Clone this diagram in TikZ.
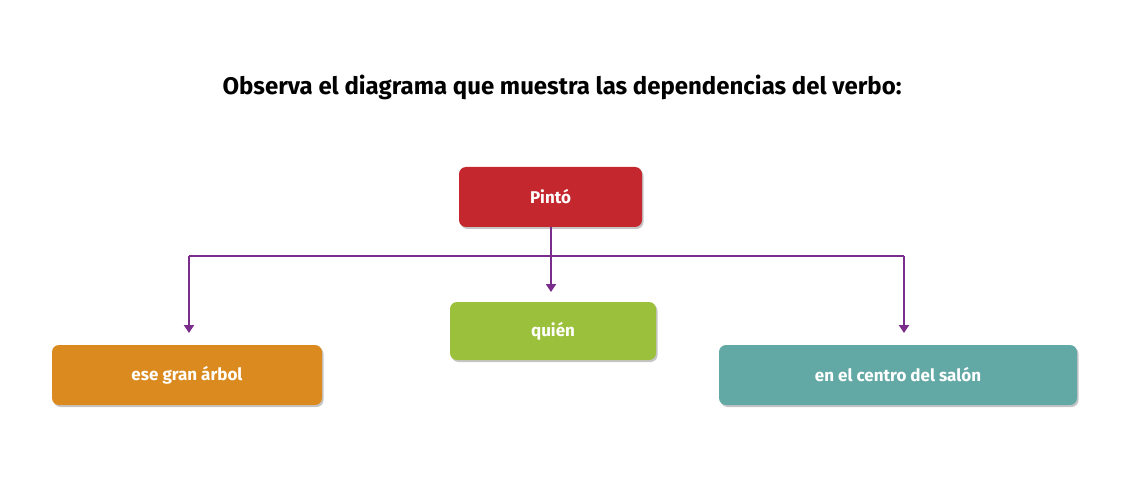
\documentclass[tikz,border=0pt]{standalone}
\usepackage{fontspec}
\setmainfont{Fira Sans}
\usetikzlibrary{shadows,arrows.meta}
\definecolor{cred}{HTML}{C4282E}
\definecolor{cgreen}{HTML}{9BC03B}
\definecolor{corange}{HTML}{DA8A1E}
\definecolor{cteal}{HTML}{62A9A5}
\definecolor{cpurple}{HTML}{7B2D8C}
\tikzset{
 box/.style={rounded corners=7pt, inner sep=0pt, text=white, font=\fontsize{17}{20}\selectfont\bfseries,
   drop shadow={shadow xshift=1.5pt,shadow yshift=-2pt,fill=black!45}},
 conn/.style={draw=cpurple, line width=2.2pt, -{Triangle[length=8pt,width=10pt]}},
 line/.style={draw=cpurple, line width=2.2pt}
}
\begin{document}
\begin{tikzpicture}[x=1pt,y=-1pt]
\useasboundingbox (0,0) rectangle (1123,478);
\node[font=\fontsize{24}{28}\selectfont\bfseries] (title) at (562,87) {Observa el diagrama que muestra las dependencias del verbo:};
\node[box, fill=cred, minimum width=183pt, minimum height=60pt] (p) at (550.5,197) {Pintó};
\node[box, fill=cgreen, minimum width=206pt, minimum height=58pt] (q) at (553,331) {quién};
\node[box, fill=corange, minimum width=270pt, minimum height=60pt] (e) at (187,375) {ese gran árbol};
\node[box, fill=cteal, minimum width=358pt, minimum height=60pt] (c) at (898,375) {en el centro del salón};
\coordinate (j) at (551,256);
\coordinate (l) at (189,256);
\coordinate (r) at (904,256);
\coordinate (la) at (189,333);
\coordinate (ra) at (904,333);
\coordinate (qa) at (551,292);
\draw[line] (p.south -| j) -- (j);
\draw[line] (l) -- (r);
\draw[conn] (j) -- (qa);
\draw[conn] (l) -- (la);
\draw[conn] (r) -- (ra);
\end{tikzpicture}
\end{document}
